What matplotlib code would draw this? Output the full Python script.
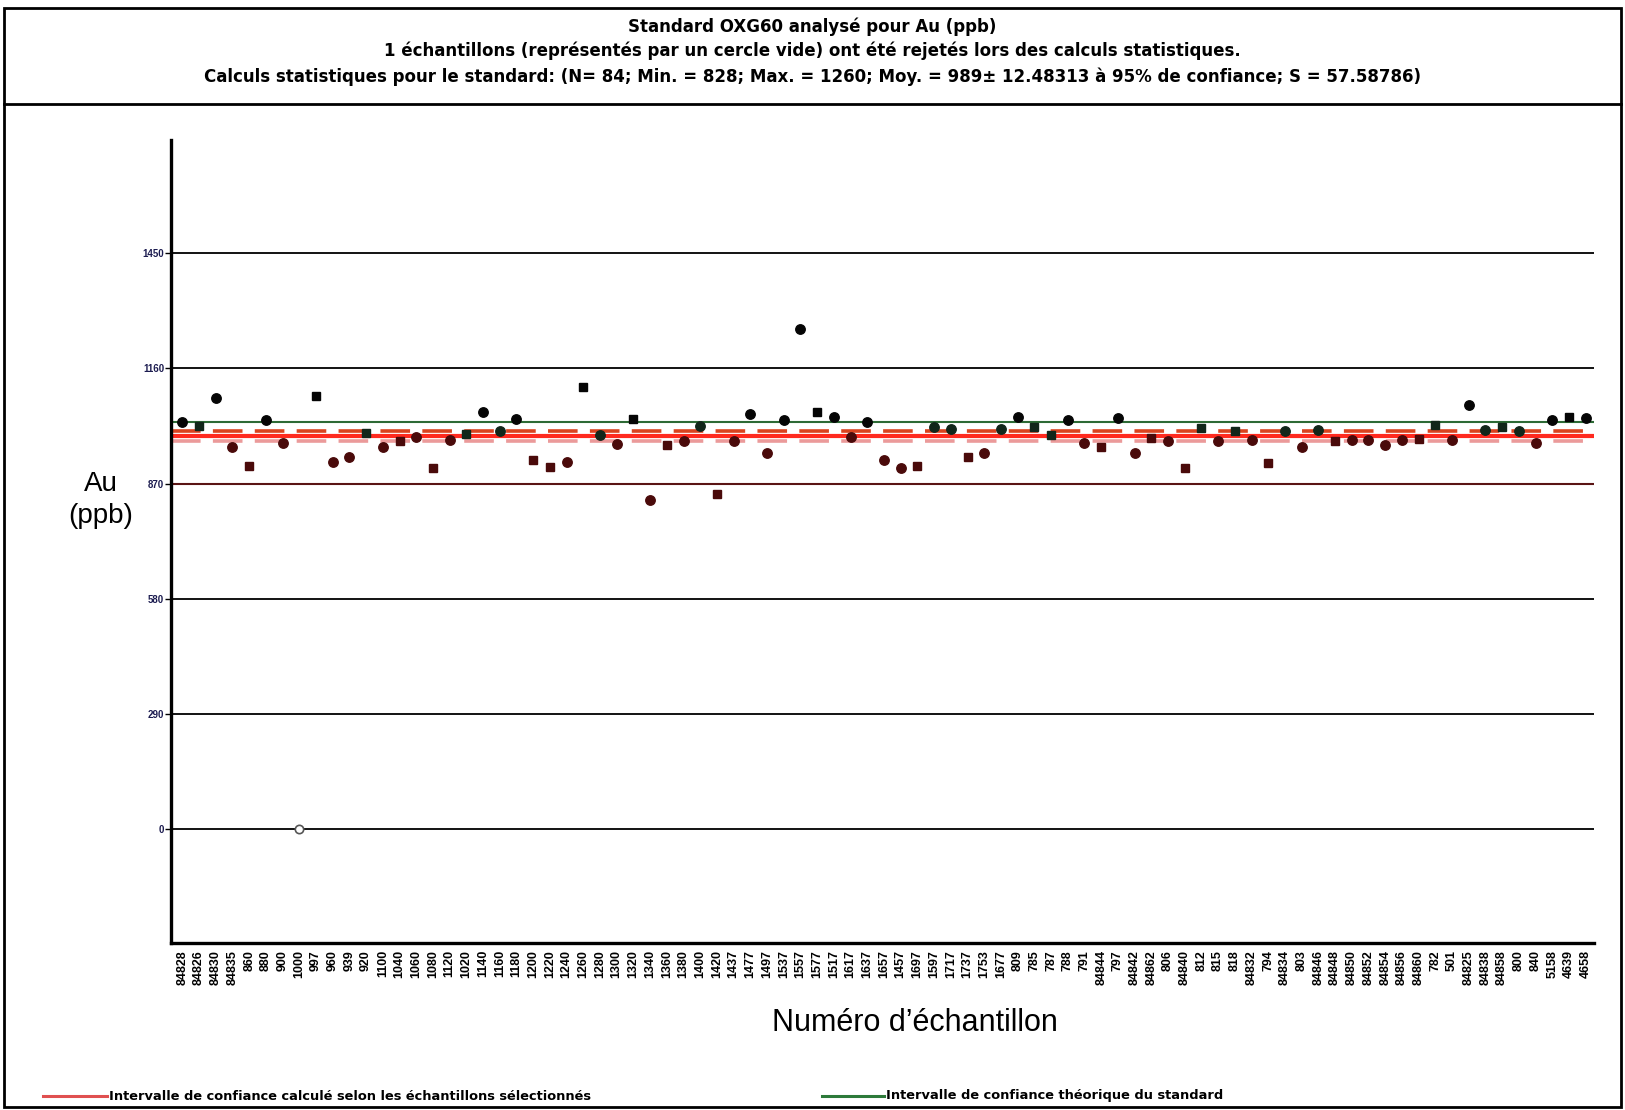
import matplotlib
matplotlib.use("Agg")
import matplotlib.pyplot as plt
from matplotlib.lines import Line2D
from matplotlib.patches import Rectangle

plt.rcParams['font.family'] = ['Liberation Sans', 'DejaVu Sans']

# ---------------- data ----------------
sample_ids = ["84828", "84826", "84830", "84835", "860", "880", "900", "1000", "997", "960",
              "939", "920", "1100", "1040", "1060", "1080", "1120", "1020", "1140", "1160",
              "1180", "1200", "1220", "1240", "1260", "1280", "1300", "1320", "1340", "1360",
              "1380", "1400", "1420", "1437", "1477", "1497", "1537", "1557", "1577", "1517",
              "1617", "1637", "1657", "1457", "1697", "1597", "1717", "1737", "1753", "1677",
              "809", "785", "787", "788", "791", "84844", "797", "84842", "84862", "806",
              "84840", "812", "815", "818", "84832", "794", "84834", "803", "84846", "84848",
              "84850", "84852", "84854", "84856", "84860", "782", "501", "84825", "84838", "84858",
              "800", "840", "5158", "4639", "4658"]

au_ppb = [1024, 1015, 1086, 961, 915, 1030, 973, 0, 1090, 924,
          938, 997, 961, 978, 986, 909, 980, 994, 1049, 1003,
          1033, 930, 911, 925, 1114, 992, 969, 1033, 828, 966,
          976, 1016, 843, 976, 1045, 946, 1030, 1260, 1051, 1037,
          986, 1025, 930, 909, 915, 1013, 1008, 936, 946, 1008,
          1037, 1013, 991, 1030, 972, 961, 1034, 948, 984, 976,
          910, 1011, 976, 1001, 980, 921, 1002, 961, 1005, 976,
          980, 980, 967, 980, 981, 1018, 980, 1068, 1005, 1013,
          1003, 973, 1030, 1037, 1034]

rejected = ["1000"]

marker_shape = ["o", "s", "o", "o", "s", "o", "o", "o", "s", "o",
                "o", "s", "o", "s", "o", "s", "o", "s", "o", "o",
                "o", "s", "s", "o", "s", "o", "o", "s", "o", "s",
                "o", "o", "s", "o", "o", "o", "o", "o", "s", "o",
                "o", "o", "o", "o", "s", "o", "o", "s", "o", "o",
                "o", "s", "s", "o", "o", "s", "o", "o", "s", "o",
                "s", "s", "o", "s", "o", "s", "o", "o", "o", "s",
                "o", "o", "o", "o", "s", "s", "o", "o", "o", "s",
                "o", "o", "o", "s", "o"]

mean_value = 989
conf_half = 12.48313
theoretical_upper = 1025
theoretical_lower = 870
y_ticks = [0, 290, 580, 870, 1160, 1450]

title_lines = [
    "Standard OXG60 analysé pour Au (ppb)",
    "1 échantillons (représentés par un cercle vide) ont été rejetés lors des calculs statistiques.",
    "Calculs statistiques pour le standard: (N= 84; Min. = 828; Max. = 1260; Moy. = 989± 12.48313 à 95% de confiance; S = 57.58786)",
]
legend_labels = ["Intervalle de confiance calculé selon les échantillons sélectionnés",
                 "Intervalle de confiance théorique du standard"]

# ---------------- figure ----------------
W, H = 1625, 1110
fig = plt.figure(figsize=(W / 100, H / 100), dpi=100)
fig.patch.set_facecolor("white")

def fx(px):
    return px / W

def fy(py):
    return 1 - py / H

ax = fig.add_axes([fx(171), fy(943), fx(1594) - fx(171), fy(140) - fy(943)])
ax.set_xlim(-0.68, 84.5)
ax.set_ylim(-287, 1735)

for v in y_ticks:
    ax.axhline(v, color="black", lw=1.3, zorder=1)
ax.axhline(theoretical_lower, color="#5a1414", lw=1.5, zorder=1.5)
ax.axhline(theoretical_upper, color="#2d6a35", lw=1.5, zorder=2)

dash = (0, (8.2, 3.4))
ax.axhline(mean_value + conf_half, color="#d9431f", lw=2.6, ls=dash, zorder=2)
ax.axhline(mean_value - conf_half, color="#eb9a9a", lw=2.6, ls=dash, zorder=2)
ax.axhline(mean_value, color="#ff2a1f", lw=3.0, zorder=2.5)

for i, (sid, v, m) in enumerate(zip(sample_ids, au_ppb, marker_shape)):
    if sid in rejected:
        ax.plot(i, v, marker="o", ms=6, mfc="white", mec="#555555", mew=1.2, zorder=4)
        continue
    if v >= 1020:
        c = "#050505"
    elif v >= 990:
        c = "#11261a"
    else:
        c = "#4a0a0a"
    ax.plot(i, v, marker=m, ms=6.8 if m == "o" else 6.0, color=c, mec=c, zorder=4)

ax.set_xticks(range(len(sample_ids)))
ax.set_xticklabels(sample_ids, rotation=90, fontsize=9, fontweight="bold", va="top")
ax.tick_params(axis="x", length=0, pad=5)
ax.set_yticks(y_ticks)
ax.set_yticklabels([str(v) for v in y_ticks], fontsize=7, fontweight="bold", color="#1c1c50")
ax.tick_params(axis="y", length=4, width=1, pad=1)

for s in ["top", "right"]:
    ax.spines[s].set_visible(False)
ax.spines["left"].set_linewidth(2.4)
ax.spines["bottom"].set_linewidth(2.4)
ax.set_facecolor("white")

fig.text(fx(101), fy(500), "Au\n(ppb)", fontsize=20, ha="center", va="center", linespacing=1.3)
fig.text(fx(915), fy(1023), "Numéro d’échantillon", fontsize=22, ha="center", va="center")

# titles
for t, y in zip(title_lines, [27, 51, 77]):
    fig.text(0.5, fy(y), t, fontsize=12, fontweight="bold", ha="center", va="center",
             family=["DejaVu Sans"])

# frames
fig.add_artist(Rectangle((fx(4), fy(1107)), fx(1621) - fx(4), fy(8) - fy(1107),
                         transform=fig.transFigure, fill=False, lw=2.0, ec="black"))
fig.add_artist(Line2D([fx(4), fx(1621)], [fy(104), fy(104)], transform=fig.transFigure,
                      color="black", lw=2.0))

# legend
fig.add_artist(Line2D([fx(43), fx(107)], [fy(1096), fy(1096)], transform=fig.transFigure,
                      color="#e05050", lw=2.2))
fig.text(fx(109), fy(1096), legend_labels[0], fontsize=9.4, fontweight="bold", ha="left",
         va="center", family=["DejaVu Sans"])
fig.add_artist(Line2D([fx(822), fx(884)], [fy(1096), fy(1096)], transform=fig.transFigure,
                      color="#2d7a3a", lw=2.2))
fig.text(fx(886), fy(1096), legend_labels[1], fontsize=9.4, fontweight="bold", ha="left",
         va="center", family=["DejaVu Sans"])

fig.savefig("out.png", dpi=100, facecolor="white")
